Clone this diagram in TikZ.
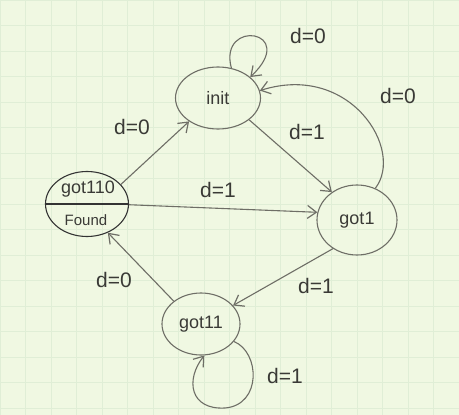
\documentclass[tikz,border=0pt]{standalone}
\usepackage{fontspec}
\setmainfont{Liberation Sans}
\usetikzlibrary{shapes.geometric,arrows.meta}
\definecolor{paper}{HTML}{F0F8E2}
\definecolor{gridc}{HTML}{E0EED6}
\definecolor{pencil}{HTML}{6E6E66}
\definecolor{ink}{HTML}{3A3A36}
\tikzset{
  state/.style={ellipse,draw=pencil,line width=1.1pt,inner sep=0pt,text=ink,font=\fontsize{18}{21}\selectfont},
  edge/.style={draw=pencil,line width=1.1pt,-{Straight Barb[length=9pt,width=13pt,line width=1.2pt]}},
  lbl/.style={text=ink,font=\fontsize{21}{24}\selectfont,inner sep=1pt},
}
\begin{document}
\begin{tikzpicture}[x=1pt,y=-1pt]
\fill[paper] (0,0) rectangle (459,415);
\useasboundingbox (0,0) rectangle (459,415);
\foreach \i in {0,...,18} {\draw[gridc,line width=0.5pt] (\i*25.5,0) -- (\i*25.5,415);}
\foreach \j in {0,...,17} {\draw[gridc,line width=0.5pt] (0,\j*25.5) -- (459,\j*25.5);}

\node[state,minimum width=85pt,minimum height=62pt] (init) at (218,98) {init};
\node[state,minimum width=83pt,minimum height=65pt,draw=black!80] (g110) at (87,204) {};
\node[state,minimum width=80pt,minimum height=70pt] (got1) at (357,220) {got1};
\node[state,minimum width=78pt,minimum height=62pt] (got11) at (201,324) {got11};

\draw[draw=black!80,line width=1.1pt] (g110.180) -- (g110.0);
\node[text=ink,font=\fontsize{18}{21}\selectfont] (t110) at (88,189) {got110};
\node[text=ink,font=\fontsize{15}{18}\selectfont] (tfound) at (86,220) {Found};

% init self loop
\draw[edge] (init.66) .. controls (218,18) and (300,30) .. (init.33);
\node[lbl] (l1) at (308,36) {d=0};
% got110 -> init
\draw[edge] (g110.30) -- (init.219);
\node[lbl] (l2) at (132,127) {d=0};
% init -> got1
\draw[edge] (init.-35) -- (got1.132);
\node[lbl] (l3) at (307,132) {d=1};
% got1 -> init
\draw[edge] (got1.60) .. controls (405,150) and (350,62) .. (init.10);
\node[lbl] (l4) at (398,96) {d=0};
% got110 -> got1
\draw[edge] (g110.-1) -- (got1.169);
\node[lbl] (l5) at (218,190) {d=1};
% got1 -> got11
\draw[edge] (got1.230) -- (got11.30);
\node[lbl] (l6) at (316,286) {d=1};
% got11 -> got110
\draw[edge] (got11.140) -- (g110.-54);
\node[lbl] (l7) at (114,280) {d=0};
% got11 self loop
\draw[edge] (got11.-28) .. controls (260,352) and (262,405) .. (225,408)
  .. controls (190,410) and (185,380) .. (got11.-84);
\node[lbl] (l8) at (285,376) {d=1};
\end{tikzpicture}
\end{document}
